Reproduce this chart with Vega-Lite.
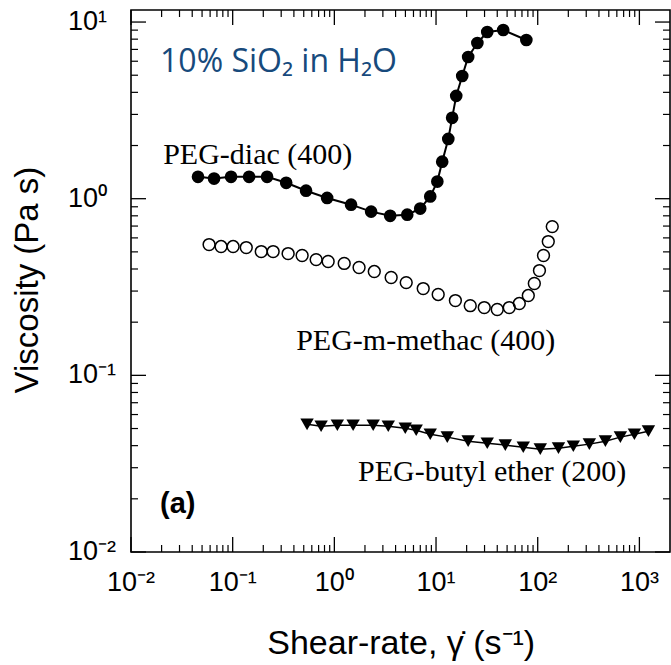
{
  "$schema": "https://vega.github.io/schema/vega-lite/v6.json",
  "width": 539,
  "height": 542,
  "autosize": {"type": "none"},
  "padding": {"left": 131, "top": 10, "right": 1, "bottom": 113},
  "background": "white",
  "config": {
    "view": {"stroke": "black", "strokeWidth": 1.6}
  },
  "datasets": {
    "diac": [
      {"x": 0.0456, "y": 1.33}, {"x": 0.0656, "y": 1.30}, {"x": 0.0964, "y": 1.33}, {"x": 0.145, "y": 1.33},
      {"x": 0.218, "y": 1.33}, {"x": 0.336, "y": 1.23}, {"x": 0.527, "y": 1.11}, {"x": 0.849, "y": 1.01},
      {"x": 1.46, "y": 0.925}, {"x": 2.30, "y": 0.845}, {"x": 3.54, "y": 0.80}, {"x": 5.21, "y": 0.812},
      {"x": 6.99, "y": 0.879}, {"x": 8.77, "y": 1.03}, {"x": 10.3, "y": 1.25}, {"x": 11.5, "y": 1.62},
      {"x": 13.2, "y": 2.18}, {"x": 14.4, "y": 2.87}, {"x": 15.8, "y": 3.82}, {"x": 18.1, "y": 4.95},
      {"x": 20.7, "y": 6.34}, {"x": 25.5, "y": 7.61}, {"x": 31.9, "y": 8.78}, {"x": 45.8, "y": 9.01},
      {"x": 77.3, "y": 7.91}
    ],
    "methac": [
      {"x": 0.0586, "y": 0.550}, {"x": 0.0769, "y": 0.536}, {"x": 0.101, "y": 0.536}, {"x": 0.136, "y": 0.529},
      {"x": 0.191, "y": 0.502}, {"x": 0.250, "y": 0.502}, {"x": 0.351, "y": 0.489}, {"x": 0.482, "y": 0.477},
      {"x": 0.662, "y": 0.452}, {"x": 0.869, "y": 0.441}, {"x": 1.25, "y": 0.430}, {"x": 1.75, "y": 0.408},
      {"x": 2.47, "y": 0.387}, {"x": 3.62, "y": 0.358}, {"x": 5.09, "y": 0.335}, {"x": 7.48, "y": 0.310},
      {"x": 10.5, "y": 0.287}, {"x": 15.5, "y": 0.265}, {"x": 21.7, "y": 0.248}, {"x": 29.8, "y": 0.242},
      {"x": 40.0, "y": 0.236}, {"x": 52.5, "y": 0.242}, {"x": 65.9, "y": 0.255}, {"x": 80.8, "y": 0.283},
      {"x": 92.6, "y": 0.331}, {"x": 104, "y": 0.392}, {"x": 114, "y": 0.477}, {"x": 127, "y": 0.572},
      {"x": 139, "y": 0.695}
    ],
    "butyl": [
      {"x": 0.539, "y": 0.0528}, {"x": 0.741, "y": 0.0515}, {"x": 1.07, "y": 0.0522}, {"x": 1.53, "y": 0.0522},
      {"x": 2.41, "y": 0.0522}, {"x": 3.39, "y": 0.0515}, {"x": 4.98, "y": 0.0502}, {"x": 6.38, "y": 0.0489},
      {"x": 8.77, "y": 0.0464}, {"x": 12.9, "y": 0.0447}, {"x": 20.7, "y": 0.0424}, {"x": 31.9, "y": 0.0413},
      {"x": 48.0, "y": 0.0403}, {"x": 72.1, "y": 0.0392}, {"x": 106, "y": 0.0382}, {"x": 160, "y": 0.0387},
      {"x": 224, "y": 0.0397}, {"x": 322, "y": 0.0408}, {"x": 463, "y": 0.0424}, {"x": 650, "y": 0.0447},
      {"x": 893, "y": 0.0464}, {"x": 1227, "y": 0.0483}
    ],
    "xticks": [
      {"v": 0.01, "kind": "major", "label": "10⁻²"}, {"v": 0.02, "kind": "minor"}, {"v": 0.03, "kind": "minor"}, {"v": 0.04, "kind": "minor"}, {"v": 0.05, "kind": "minor"}, {"v": 0.06, "kind": "minor"}, {"v": 0.07, "kind": "minor"}, {"v": 0.08, "kind": "minor"}, {"v": 0.09, "kind": "minor"},
      {"v": 0.1, "kind": "major", "label": "10⁻¹"}, {"v": 0.2, "kind": "minor"}, {"v": 0.3, "kind": "minor"}, {"v": 0.4, "kind": "minor"}, {"v": 0.5, "kind": "minor"}, {"v": 0.6, "kind": "minor"}, {"v": 0.7, "kind": "minor"}, {"v": 0.8, "kind": "minor"}, {"v": 0.9, "kind": "minor"},
      {"v": 1, "kind": "major", "label": "10⁰"}, {"v": 2, "kind": "minor"}, {"v": 3, "kind": "minor"}, {"v": 4, "kind": "minor"}, {"v": 5, "kind": "minor"}, {"v": 6, "kind": "minor"}, {"v": 7, "kind": "minor"}, {"v": 8, "kind": "minor"}, {"v": 9, "kind": "minor"},
      {"v": 10, "kind": "major", "label": "10¹"}, {"v": 20, "kind": "minor"}, {"v": 30, "kind": "minor"}, {"v": 40, "kind": "minor"}, {"v": 50, "kind": "minor"}, {"v": 60, "kind": "minor"}, {"v": 70, "kind": "minor"}, {"v": 80, "kind": "minor"}, {"v": 90, "kind": "minor"},
      {"v": 100, "kind": "major", "label": "10²"}, {"v": 200, "kind": "minor"}, {"v": 300, "kind": "minor"}, {"v": 400, "kind": "minor"}, {"v": 500, "kind": "minor"}, {"v": 600, "kind": "minor"}, {"v": 700, "kind": "minor"}, {"v": 800, "kind": "minor"}, {"v": 900, "kind": "minor"},
      {"v": 1000, "kind": "major", "label": "10³"}
    ],
    "yticks": [
      {"v": 0.01, "kind": "major", "label": "10⁻²"}, {"v": 0.02, "kind": "minor"}, {"v": 0.03, "kind": "minor"}, {"v": 0.04, "kind": "minor"}, {"v": 0.05, "kind": "minor"}, {"v": 0.06, "kind": "minor"}, {"v": 0.07, "kind": "minor"}, {"v": 0.08, "kind": "minor"}, {"v": 0.09, "kind": "minor"},
      {"v": 0.1, "kind": "major", "label": "10⁻¹"}, {"v": 0.2, "kind": "minor"}, {"v": 0.3, "kind": "minor"}, {"v": 0.4, "kind": "minor"}, {"v": 0.5, "kind": "minor"}, {"v": 0.6, "kind": "minor"}, {"v": 0.7, "kind": "minor"}, {"v": 0.8, "kind": "minor"}, {"v": 0.9, "kind": "minor"},
      {"v": 1, "kind": "major", "label": "10⁰"}, {"v": 2, "kind": "minor"}, {"v": 3, "kind": "minor"}, {"v": 4, "kind": "minor"}, {"v": 5, "kind": "minor"}, {"v": 6, "kind": "minor"}, {"v": 7, "kind": "minor"}, {"v": 8, "kind": "minor"}, {"v": 9, "kind": "minor"},
      {"v": 10, "kind": "major", "label": "10¹"}
    ]
  },
  "layer": [
    {
      "data": {"name": "diac"},
      "mark": {"type": "line", "color": "black", "strokeWidth": 2},
      "encoding": {
        "x": {"field": "x", "type": "quantitative", "scale": {"type": "log", "domain": [0.01, 2000], "nice": false}, "axis": null},
        "y": {"field": "y", "type": "quantitative", "scale": {"type": "log", "domain": [0.01, 11.7], "nice": false}, "axis": null}
      }
    },
    {
      "data": {"name": "butyl"},
      "mark": {"type": "line", "color": "black", "strokeWidth": 1.5},
      "encoding": {
        "x": {"field": "x", "type": "quantitative", "scale": {"type": "log", "domain": [0.01, 2000], "nice": false}, "axis": null},
        "y": {"field": "y", "type": "quantitative", "scale": {"type": "log", "domain": [0.01, 11.7], "nice": false}, "axis": null}
      }
    },
    {
      "data": {"name": "xticks"},
      "transform": [{"filter": "datum.kind == 'major'"}],
      "mark": {"type": "tick", "orient": "vertical", "color": "black", "opacity": 1, "size": 15, "thickness": 1.3, "yOffset": -7.5},
      "encoding": {
        "x": {"field": "v", "type": "quantitative", "scale": {"type": "log", "domain": [0.01, 2000], "nice": false}, "axis": null},
        "y": {"datum": 0.01, "type": "quantitative", "scale": {"type": "log", "domain": [0.01, 11.7], "nice": false}, "axis": null}
      }
    },
    {
      "data": {"name": "xticks"},
      "transform": [{"filter": "datum.kind == 'minor'"}],
      "mark": {"type": "tick", "orient": "vertical", "color": "black", "opacity": 1, "size": 7, "thickness": 1.2, "yOffset": -3.5},
      "encoding": {
        "x": {"field": "v", "type": "quantitative", "scale": {"type": "log", "domain": [0.01, 2000], "nice": false}, "axis": null},
        "y": {"datum": 0.01, "type": "quantitative", "scale": {"type": "log", "domain": [0.01, 11.7], "nice": false}, "axis": null}
      }
    },
    {
      "data": {"name": "xticks"},
      "transform": [{"filter": "datum.kind == 'major'"}],
      "mark": {"type": "tick", "orient": "vertical", "color": "black", "opacity": 1, "size": 15, "thickness": 1.3, "yOffset": 7.5},
      "encoding": {
        "x": {"field": "v", "type": "quantitative", "scale": {"type": "log", "domain": [0.01, 2000], "nice": false}, "axis": null},
        "y": {"datum": 11.7, "type": "quantitative", "scale": {"type": "log", "domain": [0.01, 11.7], "nice": false}, "axis": null}
      }
    },
    {
      "data": {"name": "xticks"},
      "transform": [{"filter": "datum.kind == 'minor'"}],
      "mark": {"type": "tick", "orient": "vertical", "color": "black", "opacity": 1, "size": 7, "thickness": 1.2, "yOffset": 3.5},
      "encoding": {
        "x": {"field": "v", "type": "quantitative", "scale": {"type": "log", "domain": [0.01, 2000], "nice": false}, "axis": null},
        "y": {"datum": 11.7, "type": "quantitative", "scale": {"type": "log", "domain": [0.01, 11.7], "nice": false}, "axis": null}
      }
    },
    {
      "data": {"name": "yticks"},
      "transform": [{"filter": "datum.kind == 'major'"}],
      "mark": {"type": "tick", "orient": "horizontal", "color": "black", "opacity": 1, "size": 15, "thickness": 1.3, "xOffset": 7.5},
      "encoding": {
        "y": {"field": "v", "type": "quantitative", "scale": {"type": "log", "domain": [0.01, 11.7], "nice": false}, "axis": null},
        "x": {"datum": 0.01, "type": "quantitative", "scale": {"type": "log", "domain": [0.01, 2000], "nice": false}, "axis": null}
      }
    },
    {
      "data": {"name": "yticks"},
      "transform": [{"filter": "datum.kind == 'minor'"}],
      "mark": {"type": "tick", "orient": "horizontal", "color": "black", "opacity": 1, "size": 7, "thickness": 1.2, "xOffset": 3.5},
      "encoding": {
        "y": {"field": "v", "type": "quantitative", "scale": {"type": "log", "domain": [0.01, 11.7], "nice": false}, "axis": null},
        "x": {"datum": 0.01, "type": "quantitative", "scale": {"type": "log", "domain": [0.01, 2000], "nice": false}, "axis": null}
      }
    },
    {
      "data": {"name": "yticks"},
      "transform": [{"filter": "datum.kind == 'major'"}],
      "mark": {"type": "tick", "orient": "horizontal", "color": "black", "opacity": 1, "size": 15, "thickness": 1.3, "xOffset": -7.5},
      "encoding": {
        "y": {"field": "v", "type": "quantitative", "scale": {"type": "log", "domain": [0.01, 11.7], "nice": false}, "axis": null},
        "x": {"datum": 2000, "type": "quantitative", "scale": {"type": "log", "domain": [0.01, 2000], "nice": false}, "axis": null}
      }
    },
    {
      "data": {"name": "yticks"},
      "transform": [{"filter": "datum.kind == 'minor'"}],
      "mark": {"type": "tick", "orient": "horizontal", "color": "black", "opacity": 1, "size": 7, "thickness": 1.2, "xOffset": -3.5},
      "encoding": {
        "y": {"field": "v", "type": "quantitative", "scale": {"type": "log", "domain": [0.01, 11.7], "nice": false}, "axis": null},
        "x": {"datum": 2000, "type": "quantitative", "scale": {"type": "log", "domain": [0.01, 2000], "nice": false}, "axis": null}
      }
    },
    {
      "data": {"name": "xticks"},
      "transform": [{"filter": "datum.kind == 'major'"}],
      "mark": {"type": "text", "align": "center", "baseline": "top", "font": "Liberation Sans", "fontSize": 27, "color": "black", "yOffset": 18},
      "encoding": {
        "x": {"field": "v", "type": "quantitative", "scale": {"type": "log", "domain": [0.01, 2000], "nice": false}, "axis": null},
        "y": {"datum": 0.01, "type": "quantitative", "scale": {"type": "log", "domain": [0.01, 11.7], "nice": false}, "axis": null},
        "text": {"field": "label"}
      }
    },
    {
      "data": {"name": "yticks"},
      "transform": [{"filter": "datum.kind == 'major'"}],
      "mark": {"type": "text", "align": "left", "baseline": "middle", "font": "Liberation Sans", "fontSize": 27, "color": "black", "xOffset": -63},
      "encoding": {
        "y": {"field": "v", "type": "quantitative", "scale": {"type": "log", "domain": [0.01, 11.7], "nice": false}, "axis": null},
        "x": {"datum": 0.01, "type": "quantitative", "scale": {"type": "log", "domain": [0.01, 2000], "nice": false}, "axis": null},
        "text": {"field": "label"}
      }
    },
    {
      "data": {"values": [{"y": 0.3464, "label": "Viscosity (Pa s)"}]},
      "mark": {"type": "text", "align": "center", "baseline": "middle", "angle": 270, "font": "Liberation Sans", "fontSize": 33, "color": "black", "xOffset": -103},
      "encoding": {
        "y": {"field": "y", "type": "quantitative", "scale": {"type": "log", "domain": [0.01, 11.7], "nice": false}, "axis": null},
        "x": {"datum": 0.01, "type": "quantitative", "scale": {"type": "log", "domain": [0.01, 2000], "nice": false}, "axis": null},
        "text": {"field": "label"}
      }
    },
    {
      "data": {"values": [{"x": 4.545, "label": "Shear-rate, γ̇  (s⁻¹)"}]},
      "mark": {"type": "text", "align": "center", "baseline": "alphabetic", "font": "Liberation Sans", "fontSize": 34, "color": "black", "yOffset": 102},
      "encoding": {
        "x": {"field": "x", "type": "quantitative", "scale": {"type": "log", "domain": [0.01, 2000], "nice": false}, "axis": null},
        "y": {"datum": 0.01, "type": "quantitative", "scale": {"type": "log", "domain": [0.01, 11.7], "nice": false}, "axis": null},
        "text": {"field": "label"}
      }
    },
    {
      "data": {"name": "diac"},
      "mark": {"type": "circle", "color": "black", "opacity": 1, "size": 160},
      "encoding": {
        "x": {"field": "x", "type": "quantitative", "scale": {"type": "log", "domain": [0.01, 2000], "nice": false}, "axis": null},
        "y": {"field": "y", "type": "quantitative", "scale": {"type": "log", "domain": [0.01, 11.7], "nice": false}, "axis": null}
      }
    },
    {
      "data": {"name": "methac"},
      "mark": {"type": "point", "shape": "circle", "filled": false, "color": "black", "opacity": 1, "strokeWidth": 1.5, "size": 140},
      "encoding": {
        "x": {"field": "x", "type": "quantitative", "scale": {"type": "log", "domain": [0.01, 2000], "nice": false}, "axis": null},
        "y": {"field": "y", "type": "quantitative", "scale": {"type": "log", "domain": [0.01, 11.7], "nice": false}, "axis": null}
      }
    },
    {
      "data": {"name": "butyl"},
      "mark": {"type": "point", "shape": "triangle-down", "filled": true, "color": "black", "opacity": 1, "size": 180},
      "encoding": {
        "x": {"field": "x", "type": "quantitative", "scale": {"type": "log", "domain": [0.01, 2000], "nice": false}, "axis": null},
        "y": {"field": "y", "type": "quantitative", "scale": {"type": "log", "domain": [0.01, 11.7], "nice": false}, "axis": null}
      }
    },
    {
      "data": {"values": [{"x": 0.0193, "y": 5.94, "label": "10% SiO₂ in H₂O"}]},
      "mark": {"type": "text", "align": "left", "baseline": "middle", "font": "Open Sans", "fontSize": 32, "color": "#174a7c"},
      "encoding": {
        "x": {"field": "x", "type": "quantitative", "scale": {"type": "log", "domain": [0.01, 2000], "nice": false}, "axis": null},
        "y": {"field": "y", "type": "quantitative", "scale": {"type": "log", "domain": [0.01, 11.7], "nice": false}, "axis": null},
        "text": {"field": "label"}
      }
    },
    {
      "data": {"values": [
        {"x": 0.0207, "y": 1.77, "label": "PEG-diac (400)"},
        {"x": 0.421, "y": 0.156, "label": "PEG-m-methac (400)"},
        {"x": 1.71, "y": 0.0283, "label": "PEG-butyl ether (200)"}
      ]},
      "mark": {"type": "text", "align": "left", "baseline": "middle", "font": "Liberation Serif", "fontSize": 30, "color": "black"},
      "encoding": {
        "x": {"field": "x", "type": "quantitative", "scale": {"type": "log", "domain": [0.01, 2000], "nice": false}, "axis": null},
        "y": {"field": "y", "type": "quantitative", "scale": {"type": "log", "domain": [0.01, 11.7], "nice": false}, "axis": null},
        "text": {"field": "label"}
      }
    },
    {
      "data": {"values": [{"x": 0.0193, "y": 0.01867, "label": "(a)"}]},
      "mark": {"type": "text", "align": "left", "baseline": "middle", "font": "Liberation Sans", "fontWeight": "bold", "fontSize": 29, "color": "black"},
      "encoding": {
        "x": {"field": "x", "type": "quantitative", "scale": {"type": "log", "domain": [0.01, 2000], "nice": false}, "axis": null},
        "y": {"field": "y", "type": "quantitative", "scale": {"type": "log", "domain": [0.01, 11.7], "nice": false}, "axis": null},
        "text": {"field": "label"}
      }
    }
  ]
}
